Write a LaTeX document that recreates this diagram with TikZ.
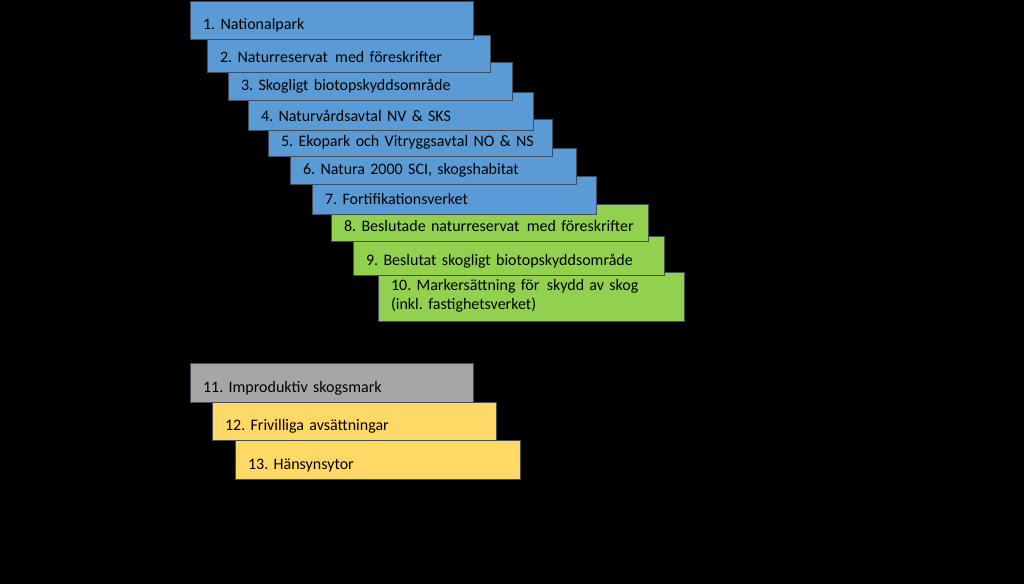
\documentclass[tikz,border=0pt]{standalone}
\usepackage{fontspec}
\setmainfont{Carlito}
\usepackage{tikz}
\frenchspacing

\definecolor{formal}{RGB}{91,155,213}
\definecolor{beslut}{RGB}{146,208,80}
\definecolor{improd}{RGB}{166,166,166}
\definecolor{frivillig}{RGB}{255,217,102}
\definecolor{kant}{RGB}{66,76,92}

\tikzset{
  ruta/.style={draw=kant, line width=1.1pt, anchor=north west,
    inner xsep=12.5pt, inner ysep=0pt, align=left,
    text height=28pt, text depth=10pt, text=black,
    font=\fontsize{16}{19}\selectfont},
  w/.style={text width={#1-25pt}}
}

\begin{document}
\begin{tikzpicture}[x=1pt,y=-1pt]
    \fill[black] (0,0) rectangle (1024,584);
    \useasboundingbox (0,0) rectangle (1024,584);
    % drawn from the bottom up, so each box covers the top of the next one
    \node[ruta, fill=beslut, w=306pt, text height=18pt, text depth=31pt] (s10) at (378,272)
      {10. Markersättning för \kern2pt skydd av skog\\(inkl. fastighetsverket)};
    \node[ruta, fill=beslut, w=311pt, text height=29pt] (s9) at (353,236) {9. Beslutat skogligt biotopskyddsområde};
    \node[ruta, fill=beslut, w=317pt, text height=27pt] (s8) at (331,204) {8. Beslutade naturreservat \kern2pt med föreskrifter};
    \node[ruta, fill=formal, w=284pt] (s7) at (312,176) {7. Fortifikationsverket};
    \node[ruta, fill=formal, w=286pt, text height=26pt] (s6) at (290,148) {6. Natura 2000 SCI, skogshabitat};
    \node[ruta, fill=formal, w=284pt, text height=27pt] (s5) at (268,119) {5. Ekopark och Vitryggsavtal NO \& NS};
    \node[ruta, fill=formal, w=285pt, text height=29pt, text depth=9pt] (s4) at (248,92) {4. Naturvårdsavtal NV \& SKS};
    \node[ruta, fill=formal, w=284pt] (s3) at (228,62) {3. Skogligt biotopskyddsområde};
    \node[ruta, fill=formal, w=283pt, text height=27pt] (s2) at (207,35) {2. Naturreservat \kern2pt med föreskrifter};
    \node[ruta, fill=formal, w=283pt] (s1) at (190,1) {1. Nationalpark};
    % the other areas
    \node[ruta, fill=frivillig, w=285pt, text height=29pt] (s13) at (235,440) {13. Hänsynsytor};
    \node[ruta, fill=frivillig, w=284pt] (s12) at (212,402) {12. Frivilliga avsättningar};
    \node[ruta, fill=improd, w=283pt, text height=29pt] (s11) at (190,363) {11. Improduktiv skogsmark};
\end{tikzpicture}
\end{document}
